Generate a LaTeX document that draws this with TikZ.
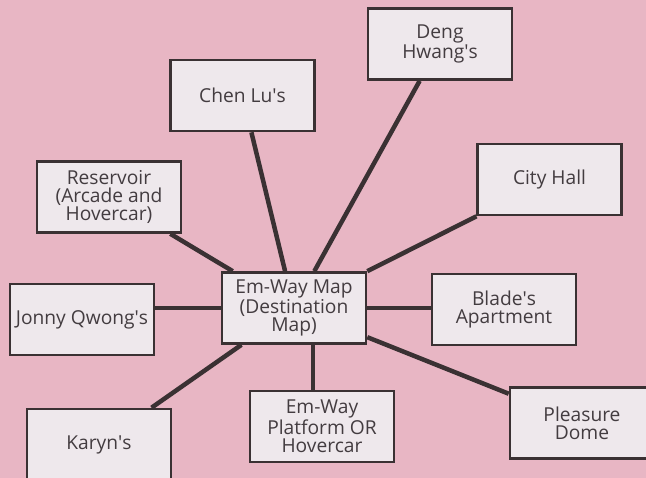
\documentclass[tikz,border=0pt]{standalone}
\usepackage{fontspec}
\setmainfont{Open Sans}
\usetikzlibrary{calc}
\definecolor{bgpink}{HTML}{E8B6C4}
\definecolor{boxfill}{HTML}{EEE8EC}
\definecolor{inkline}{HTML}{3A3133}
\definecolor{inktext}{HTML}{433C40}
\newcommand{\apos}{\textquotesingle}
\begin{document}
\begin{tikzpicture}[x=1pt,y=-1pt,
  place/.style={draw=inkline, line width=2.6pt, fill=boxfill, text=inktext,
    minimum width=144pt, minimum height=71pt, inner sep=0pt, align=center,
    font=\fontsize{19.2}{18.3}\selectfont},
  link/.style={draw=inkline, line width=4.5pt}]
\fill[bgpink] (0,0) rectangle (646,478);
\useasboundingbox (0,0) rectangle (646,478);
% nodes
\node[place] (center) at (294,308) {Em-Way Map\\(Destination\\Map)};
\node[place] (chen) at (242.5,95.5) {Chen Lu\apos s};
\node[place] (res) at (109,197) {Reservoir\\(Arcade and\\Hovercar)};
\node[place] (deng) at (440,44) {Deng\\Hwang\apos s};
\node[place] (city) at (549.5,179.5) {City Hall};
\node[place] (jonny) at (82,319.5) {Jonny Qwong\apos s};
\node[place] (blade) at (504,309.5) {Blade\apos s\\Apartment};
\node[place] (karyn) at (99,444.5) {Karyn\apos s};
\node[place] (plat) at (322,426.5) {Em-Way\\Platform OR\\Hovercar};
\node[place] (dome) at (582,423) {Pleasure\\Dome};
% connectors
\coordinate (cs) at ($(center.south)+(19,0)$);
\coordinate (pn) at (cs |- plat.north);
\draw[link] (res) -- (center);
\draw[link] (chen) -- (center);
\draw[link] (deng) -- (center);
\draw[link] (city) -- (center);
\draw[link] (center.west) -- (center.west -| jonny.east);
\draw[link] (center.east) -- (center.east -| blade.west);
\draw[link] (karyn) -- (center);
\draw[link] (cs) -- (pn);
\draw[link] (dome) -- (center);
\end{tikzpicture}
\end{document}
